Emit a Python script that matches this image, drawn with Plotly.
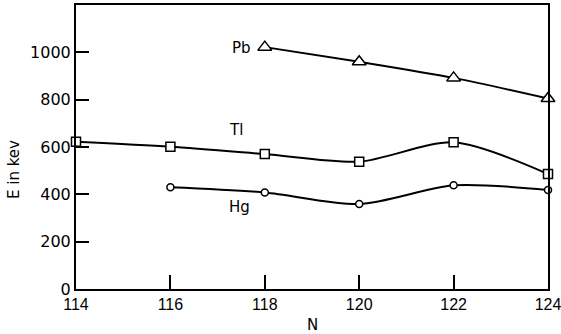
import plotly.graph_objects as go

N_pb = [118, 120, 122, 124]
E_pb = [1022, 960, 892, 805]
N_tl = [114, 116, 118, 120, 122, 124]
E_tl = [622, 601, 570, 538, 620, 486]
N_hg = [116, 118, 120, 122, 124]
E_hg = [430, 408, 359, 438, 418]
x_ticks = [114, 116, 118, 120, 122, 124]
y_ticks = [0, 200, 400, 600, 800, 1000]

FONT = "DejaVu Sans"
W, H = 561, 334
L, R, T, B = 76, 13, 5, 45
PW, PH = W - L - R, H - T - B

fig = go.Figure()
def add(x, y, sym, size):
    fig.add_trace(go.Scatter(
        x=x, y=y, mode="lines+markers",
        line=dict(color="black", width=2, shape="spline", smoothing=0.8),
        marker=dict(symbol=sym, size=size, color="white",
                    line=dict(color="black", width=1.5)),
        showlegend=False, cliponaxis=False))

add(N_pb, E_pb, "triangle-up", 12)
add(N_tl, E_tl, "square", 9)
add(N_hg, E_hg, "circle", 7)

labels = [("Pb", 117.5, 1018), ("Tl", 117.4, 672), ("Hg", 117.47, 346)]
for t, x, y in labels:
    fig.add_annotation(x=x, y=y, text=t, showarrow=False,
                       font=dict(family=FONT, size=15, color="black"))

fig.add_annotation(xref="paper", yref="paper", x=(14 - L) / PW, y=(H - B - 169) / PH,
                   text="E in kev", textangle=-90, showarrow=False,
                   xanchor="center", yanchor="middle",
                   font=dict(family=FONT, size=15, color="black"))
fig.add_annotation(xref="paper", yref="paper", x=(312 - L) / PW, y=(H - B - 325) / PH,
                   text="N", showarrow=False, xanchor="center", yanchor="middle",
                   font=dict(family=FONT, size=15, color="black"))

common = dict(ticks="inside", tickwidth=2, tickcolor="black", showline=True,
              linecolor="black", linewidth=2, mirror=True, showgrid=False,
              zeroline=False, automargin=False, ticklabeloverflow="allow")
fig.update_xaxes(range=[114, 124], tickvals=x_ticks, ticklen=14,
                 tickfont=dict(family="Liberation Sans", size=16, color="black"), **common)
fig.update_yaxes(range=[0, 1200], tickvals=y_ticks, ticklen=13,
                 tickfont=dict(family=FONT, size=16, color="black"), **common)
fig.update_layout(width=W, height=H, margin=dict(l=L, r=R, t=T, b=B),
                  plot_bgcolor="white", paper_bgcolor="white",
                  font=dict(family=FONT, color="black"))
fig.write_html("out.html", config={"displayModeBar": False},
               post_script="document.body.style.margin='0';")
